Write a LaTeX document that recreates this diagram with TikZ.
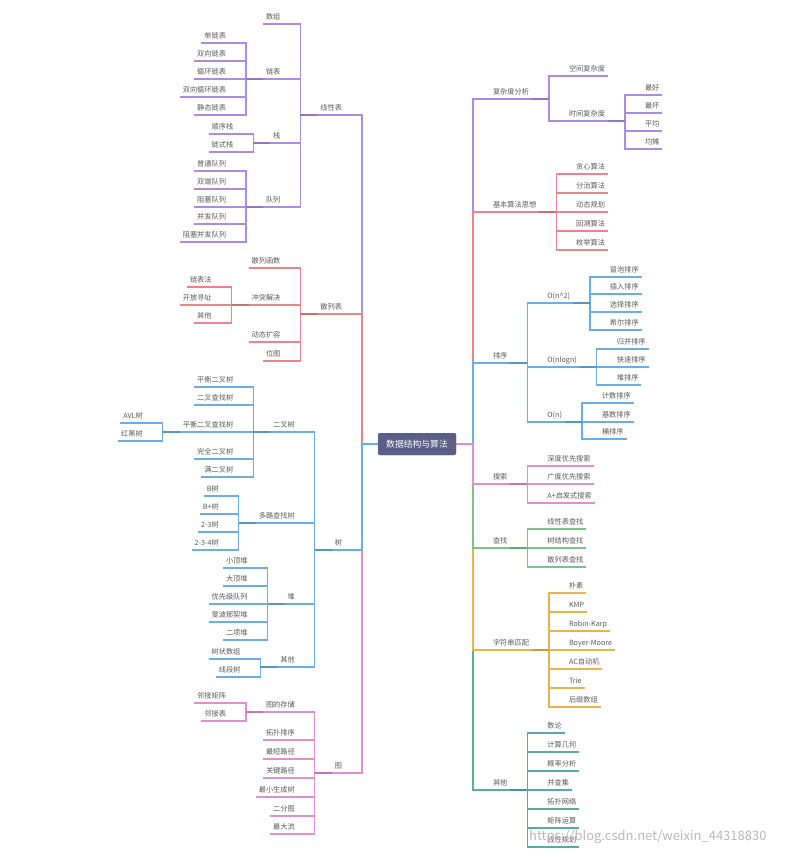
\documentclass[tikz,border=0pt]{standalone}
\usepackage{fontspec}
\setmainfont{Noto Sans CJK SC}
\usetikzlibrary{calc}
\definecolor{cPur}{HTML}{A88EE3}
\definecolor{cRed}{HTML}{E8858D}
\definecolor{cBlu}{HTML}{6DADE3}
\definecolor{cPnk}{HTML}{E08FCF}
\definecolor{cGrn}{HTML}{7CC28A}
\definecolor{cAmb}{HTML}{E6B54E}
\definecolor{cTea}{HTML}{5EA9A2}
\definecolor{cRoot}{HTML}{5B5F86}
\definecolor{cTxt}{HTML}{5A5A5A}
\tikzset{
  lbl/.style={font=\fontsize{7.2}{8}\selectfont, text=cTxt, inner xsep=3pt, inner ysep=2.8pt,
              text height=6pt, text depth=1.5pt, outer sep=0pt},
  ln/.style={line width=1.2pt},
  stubln/.style={line width=1.9pt},
  rootbox/.style={fill=cRoot, rounded corners=2pt, text=white, font=\fontsize{8.8}{10}\selectfont,
              minimum width=78pt, minimum height=22pt, inner xsep=8pt, outer sep=0pt},
  pin/.style={inner sep=0pt, outer sep=0pt, minimum size=0pt},
}
% left child: parent, name, y, text, colour
\newcommand\LL[5]{%
  \node[lbl, anchor=south east, xshift=-17pt] (#2) at (#1-s |- 0,#3) {#4};
  \coordinate (#2-s) at ([xshift=-17pt]#2.south west);
  \draw[ln, draw=#5] (#2.south west) -- (#2.south east) -| (#1-s) -- (#1.south west);
}
% right child
\newcommand\RR[5]{%
  \node[lbl, anchor=south west, xshift=17pt] (#2) at (#1-s |- 0,#3) {#4};
  \coordinate (#2-s) at ([xshift=17pt]#2.south east);
  \draw[ln, draw=#5] (#2.south east) -- (#2.south west) -| (#1-s) -- (#1.south east);
}
\newcommand\SL[2]{\draw[stubln, draw=#2!85!black] (#1-s) -- (#1.south west);}
\newcommand\SR[2]{\draw[stubln, draw=#2!85!black] (#1.south east) -- (#1-s);}

\begin{document}
\begin{tikzpicture}[x=1pt,y=-1pt]
\fill[white] (0,0) rectangle (809,857);
\useasboundingbox (0,0) rectangle (809,857);

\node[rootbox] (root) at (417,444) {数据结构与算法};
\node[pin] (rl) at (root.west) {};
\node[pin] (rr) at (root.east) {};
\coordinate (rl-s) at ([xshift=-16pt]rl.center);
\coordinate (rr-s) at ([xshift=17pt]rr.center);

% ---------------- left: 线性表
\LL{rl}{xxb}{115}{线性表}{cPur}
\LL{xxb}{sz}{24}{数组}{cPur}
\LL{xxb}{lb}{79}{链表}{cPur}
\LL{lb}{lba}{43}{单链表}{cPur}
\LL{lb}{lbb}{61}{双向链表}{cPur}
\LL{lb}{lbc}{79}{循环链表}{cPur}
\LL{lb}{lbd}{97}{双向循环链表}{cPur}
\LL{lb}{lbe}{115}{静态链表}{cPur}
\LL{xxb}{zh}{143}{栈}{cPur}
\LL{zh}{zha}{134}{顺序栈}{cPur}
\LL{zh}{zhb}{152}{链式栈}{cPur}
\LL{xxb}{dl}{207}{队列}{cPur}
\LL{dl}{dla}{171}{普通队列}{cPur}
\LL{dl}{dlb}{189}{双端队列}{cPur}
\LL{dl}{dlc}{207}{阻塞队列}{cPur}
\LL{dl}{dld}{224}{并发队列}{cPur}
\LL{dl}{dle}{242}{阻塞并发队列}{cPur}
\SL{xxb}{cPur}\SL{lb}{cPur}\SL{zh}{cPur}\SL{dl}{cPur}

% ---------------- left: 散列表
\LL{rl}{slb}{314}{散列表}{cRed}
\LL{slb}{sla}{268}{散列函数}{cRed}
\LL{slb}{ct}{305}{冲突解决}{cRed}
\LL{ct}{cta}{287}{链表法}{cRed}
\LL{ct}{ctb}{305}{开放寻址}{cRed}
\LL{ct}{ctc}{323}{其他}{cRed}
\LL{slb}{slc}{342}{动态扩容}{cRed}
\LL{slb}{sld}{361}{位图}{cRed}
\SL{slb}{cRed}\SL{ct}{cRed}

% ---------------- left: 图
\LL{rl}{tu}{773}{图}{cPnk}
\LL{tu}{cc}{712}{图的存储}{cPnk}
\LL{cc}{cca}{703}{邻接矩阵}{cPnk}
\LL{cc}{ccb}{721}{邻接表}{cPnk}
\LL{tu}{tub}{740}{拓扑排序}{cPnk}
\LL{tu}{tuc}{759}{最短路径}{cPnk}
\LL{tu}{tud}{778}{关键路径}{cPnk}
\LL{tu}{tue}{797}{最小生成树}{cPnk}
\LL{tu}{tuf}{816}{二分图}{cPnk}
\LL{tu}{tug}{834}{最大流}{cPnk}
\SL{tu}{cPnk}\SL{cc}{cPnk}

% ---------------- left: 树
\LL{rl}{shu}{550}{树}{cBlu}
\LL{shu}{ec}{432}{二叉树}{cBlu}
\LL{ec}{eca}{387}{平衡二叉树}{cBlu}
\LL{ec}{ecb}{405}{二叉查找树}{cBlu}
\LL{ec}{ecc}{432}{平衡二叉查找树}{cBlu}
\LL{ecc}{avl}{423}{AVL树}{cBlu}
\LL{ecc}{hh}{441}{红黑树}{cBlu}
\LL{ec}{ecd}{459}{完全二叉树}{cBlu}
\LL{ec}{ece}{477}{满二叉树}{cBlu}
\LL{shu}{dc}{523}{多路查找树}{cBlu}
\LL{dc}{dca}{496}{B树}{cBlu}
\LL{dc}{dcb}{514}{B+树}{cBlu}
\LL{dc}{dcc}{532}{2-3树}{cBlu}
\LL{dc}{dcd}{550}{2-3-4树}{cBlu}
\LL{shu}{dui}{604}{堆}{cBlu}
\LL{dui}{dua}{568}{小顶堆}{cBlu}
\LL{dui}{dub}{586}{大顶堆}{cBlu}
\LL{dui}{duc}{604}{优先级队列}{cBlu}
\LL{dui}{dud}{622}{斐波那契堆}{cBlu}
\LL{dui}{due}{640}{二项堆}{cBlu}
\LL{shu}{qt}{667}{其他}{cBlu}
\LL{qt}{qta}{659}{树状数组}{cBlu}
\LL{qt}{qtb}{677}{线段树}{cBlu}
\SL{shu}{cBlu}\SL{ec}{cBlu}\SL{ecc}{cBlu}\SL{dc}{cBlu}\SL{dui}{cBlu}\SL{qt}{cBlu}
\draw[ln, draw=cBlu] (rl-s) -- (rl);

% ---------------- right: 复杂度分析
\RR{rr}{fz}{99}{复杂度分析}{cPur}
\RR{fz}{kj}{76}{空间复杂度}{cPur}
\RR{fz}{sj}{121}{时间复杂度}{cPur}
\RR{sj}{sja}{95}{最好}{cPur}
\RR{sj}{sjb}{113}{最坏}{cPur}
\RR{sj}{sjc}{131}{平均}{cPur}
\RR{sj}{sjd}{149}{均摊}{cPur}
\SR{fz}{cPur}\SR{sj}{cPur}

% ---------------- right: 基本算法思想
\RR{rr}{jb}{212}{基本算法思想}{cRed}
\RR{jb}{jba}{174}{贪心算法}{cRed}
\RR{jb}{jbb}{193}{分治算法}{cRed}
\RR{jb}{jbc}{212}{动态规划}{cRed}
\RR{jb}{jbd}{231}{回溯算法}{cRed}
\RR{jb}{jbe}{250}{枚举算法}{cRed}
\SR{jb}{cRed}

% ---------------- right: 排序
\RR{rr}{px}{363}{排序}{cBlu}
\RR{px}{oa}{303}{O(n\textasciicircum 2)}{cBlu}
\RR{oa}{oaa}{277}{冒泡排序}{cBlu}
\RR{oa}{oab}{294}{插入排序}{cBlu}
\RR{oa}{oac}{312}{选择排序}{cBlu}
\RR{oa}{oad}{330}{希尔排序}{cBlu}
\RR{px}{ob}{367}{O(nlogn)}{cBlu}
\RR{ob}{oba}{349}{归并排序}{cBlu}
\RR{ob}{obb}{367}{快速排序}{cBlu}
\RR{ob}{obc}{385}{堆排序}{cBlu}
\RR{px}{oc}{422}{O(n)}{cBlu}
\RR{oc}{oca}{403}{计数排序}{cBlu}
\RR{oc}{ocb}{422}{基数排序}{cBlu}
\RR{oc}{occ}{439}{桶排序}{cBlu}
\SR{px}{cBlu}\SR{oa}{cBlu}\SR{ob}{cBlu}\SR{oc}{cBlu}

% ---------------- right: 其他
\RR{rr}{qo}{790}{其他}{cTea}
\RR{qo}{qoa}{733}{数论}{cTea}
\RR{qo}{qob}{752}{计算几何}{cTea}
\RR{qo}{qoc}{771}{概率分析}{cTea}
\RR{qo}{qod}{790}{并查集}{cTea}
\RR{qo}{qoe}{809}{拓扑网络}{cTea}
\RR{qo}{qof}{828}{矩阵运算}{cTea}
\RR{qo}{qog}{847}{线性规划}{cTea}
\SR{qo}{cTea}

% ---------------- right: 字符串匹配
\RR{rr}{zf}{650}{字符串匹配}{cAmb}
\RR{zf}{zfa}{593}{朴素}{cAmb}
\RR{zf}{zfb}{612}{KMP}{cAmb}
\RR{zf}{zfc}{631}{Robin-Karp}{cAmb}
\RR{zf}{zfd}{650}{Boyer-Moore}{cAmb}
\RR{zf}{zfe}{669}{AC自动机}{cAmb}
\RR{zf}{zff}{688}{Trie}{cAmb}
\RR{zf}{zfg}{707}{后缀数组}{cAmb}
\SR{zf}{cAmb}

% ---------------- right: 查找
\RR{rr}{cz}{548}{查找}{cGrn}
\RR{cz}{cza}{529}{线性表查找}{cGrn}
\RR{cz}{czb}{548}{树结构查找}{cGrn}
\RR{cz}{czc}{567}{散列表查找}{cGrn}
\SR{cz}{cGrn}

% ---------------- right: 搜索
\RR{rr}{ss}{484}{搜索}{cPnk}
\RR{ss}{ssa}{466}{深度优先搜索}{cPnk}
\RR{ss}{ssb}{484}{广度优先搜索}{cPnk}
\RR{ss}{ssc}{503}{A+启发式搜索}{cPnk}
\SR{ss}{cPnk}
\draw[ln, draw=cPnk] (rr) -- (rr-s);

\node[rootbox] at (root) {数据结构与算法};

\node[anchor=west, font=\fontsize{13}{14}\selectfont, text=black!28, inner sep=0pt] (wm) at (529,837) {https://blog.csdn.net/weixin\_44318830};
\end{tikzpicture}
\end{document}
